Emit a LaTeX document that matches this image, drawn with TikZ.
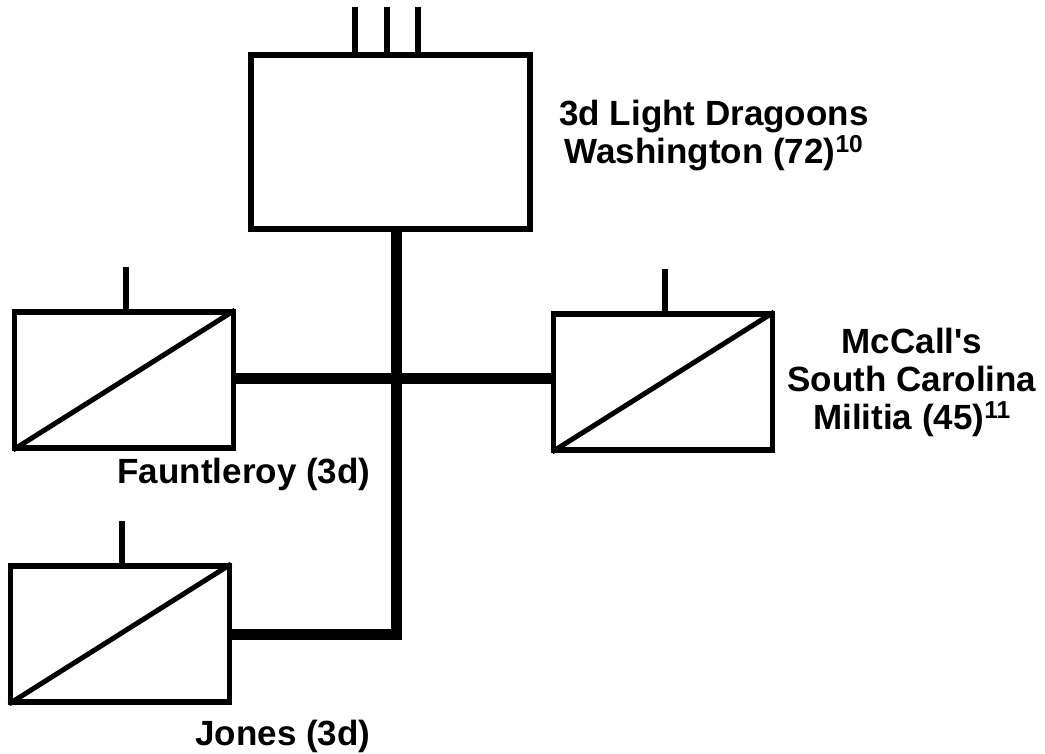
\documentclass[tikz,border=0pt]{standalone}
\usepackage{fontspec}
\setmainfont{Liberation Sans}
\usepackage{tikz}
\usetikzlibrary{positioning}
\tikzset{
  hqbox/.style={rectangle,draw=black,line width=6pt,minimum width=279pt,minimum height=174pt,inner sep=0pt},
  unitbox/.style={rectangle,draw=black,line width=5.5pt,minimum width=219pt,minimum height=136pt,inner sep=0pt},
  link/.style={line width=11pt,draw=black,line join=miter},
  stem/.style={line width=5.5pt,draw=black},
  slash/.style={line width=5pt,draw=black,shorten <=1.5pt,shorten >=1.5pt},
  caption/.style={font=\fontsize{35}{38}\selectfont\bfseries,align=center,inner sep=0pt}
}
\newcommand{\fnref}[1]{\raisebox{2pt}{\textsuperscript{#1}}}

\begin{document}
\begin{tikzpicture}[x=1pt,y=-1pt]
\useasboundingbox (0,0) rectangle (1045,753);
\node[hqbox] (hq) at (390.5,142) {};
\node[unitbox] (faunt) at (124,380) {};
\node[unitbox] (mccall) at (663,382) {};
\node[unitbox] (jones) at (120,634) {};
\coordinate (jct) at (396,378);
% trunk lines
\draw[link] (hq.south -| jct) |- (jones.east);
\draw[link] (faunt.east |- jct) -- (mccall.west |- jct);
% unit symbols
\foreach \u in {faunt,mccall,jones} {
  \draw[slash] (\u.south west) -- (\u.north east);
  \draw[stem] ([xshift=2pt]\u.north) -- ++(0,-42);
}
\foreach \dx in {-35.5,-3.5,27.5}
  \draw[stem] ([xshift=\dx pt]hq.north) -- ++(0,-45);
% captions
\node[caption] (hqlbl) at (714,136) {3d Light Dragoons\\Washington (72)\fnref{10}};
\node[caption] (mccalllbl) at (912,382) {McCall\textquotesingle s\\South Carolina\\Militia (45)\fnref{11}};
\node[caption,anchor=base] (fauntlbl) at (244,483) {Fauntleroy (3d)};
\node[caption,anchor=base] (joneslbl) at (283,745) {Jones (3d)};
\end{tikzpicture}
\end{document}
